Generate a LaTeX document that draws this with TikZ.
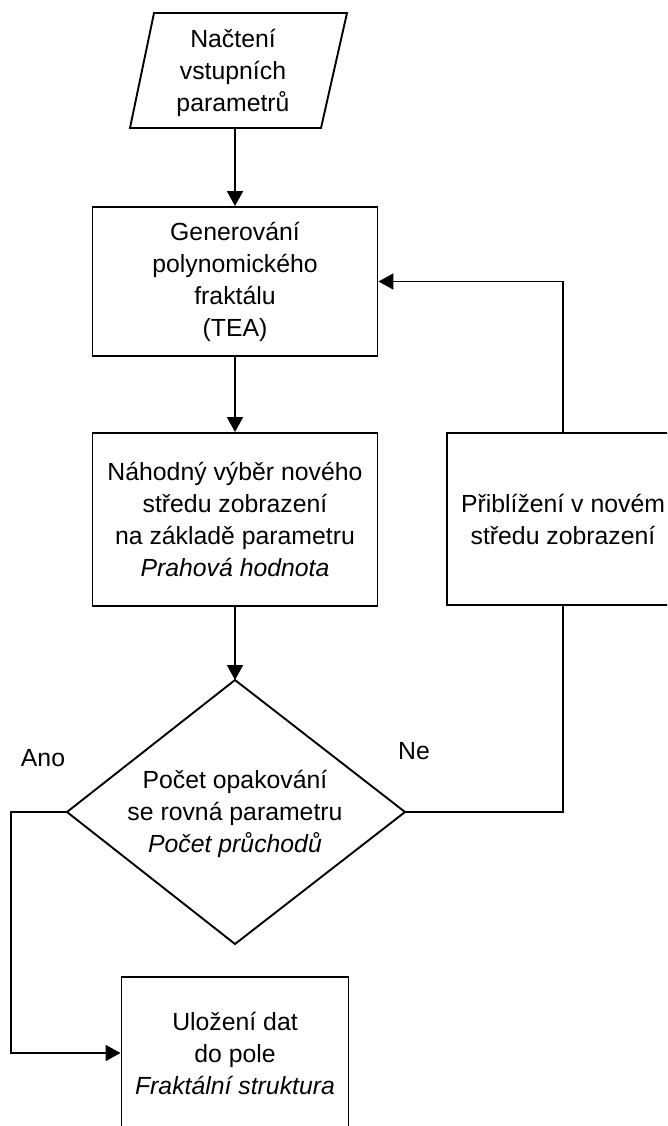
\documentclass[tikz,border=0pt]{standalone}
\usepackage{fontspec}
\setmainfont{Liberation Sans}
\usetikzlibrary{arrows.meta}
\begin{document}
\begin{tikzpicture}[x=1pt,y=-1pt,
  every node/.style={font=\fontsize{24.8}{32}\selectfont, align=center},
  procbox/.style={draw, line width=1.9pt, inner sep=0pt},
  flow/.style={line width=1.9pt, -{Triangle[length=15pt,width=16pt]}},
  link/.style={line width=1.9pt}]
\useasboundingbox (0,0) rectangle (667,1126);
\clip (0,0) rectangle (667,1126);

% input parallelogram
\coordinate (inTL) at (154,13);
\coordinate (inTR) at (347,13);
\coordinate (inBR) at (321,128);
\coordinate (inBL) at (130,128);
\coordinate (inOut) at (235,128);
\draw[link] (inTL) -- (inTR) -- (inBR) -- (inBL) -- cycle;
\node (intext) at (233,73) {Načtení\\vstupních\\parametrů};

% process boxes
\node[procbox, minimum width=285pt, minimum height=149pt] (gen) at (235,281.5)
  {Generování\\polynomického\\fraktálu\\(TEA)};
\node[procbox, minimum width=285pt, minimum height=173pt] (pick) at (235,519.5)
  {Náhodný výběr nového\\středu zobrazení\\na základě parametru\\\textit{Prahová hodnota}};
\node[procbox, minimum width=232pt, minimum height=172pt] (zoombox) at (563,519)
  {Přiblížení v novém\\středu zobrazení};
\node[procbox, minimum width=227pt, minimum height=152pt] (store) at (235,1053)
  {Uložení dat\\do pole\\\textit{Fraktální struktura}};

% decision diamond
\coordinate (dT) at (235,680);
\coordinate (dR) at (405,812);
\coordinate (dB) at (235,944);
\coordinate (dL) at (67,812);
\draw[link] (dT) -- (dR) -- (dB) -- (dL) -- cycle;
\node (dtext) at (235,814)
  {Počet opakování\\se rovná parametru\\\textit{Počet průchodů}};

% branch labels
\node (ano) at (43,758) {Ano};
\node (ne) at (414,751) {Ne};

% connectors
\coordinate (yesCorner) at (11,812);
\draw[flow] (inOut) -- (gen.north);
\draw[flow] (gen.south) -- (pick.north);
\draw[flow] (pick.south) -- (dT);
\draw[link] (dR) -- (dR -| zoombox.south) -- (zoombox.south);
\draw[flow] (zoombox.north) |- (gen.east);
\draw[flow] (dL) -- (yesCorner) |- (store.west);
\end{tikzpicture}
\end{document}
